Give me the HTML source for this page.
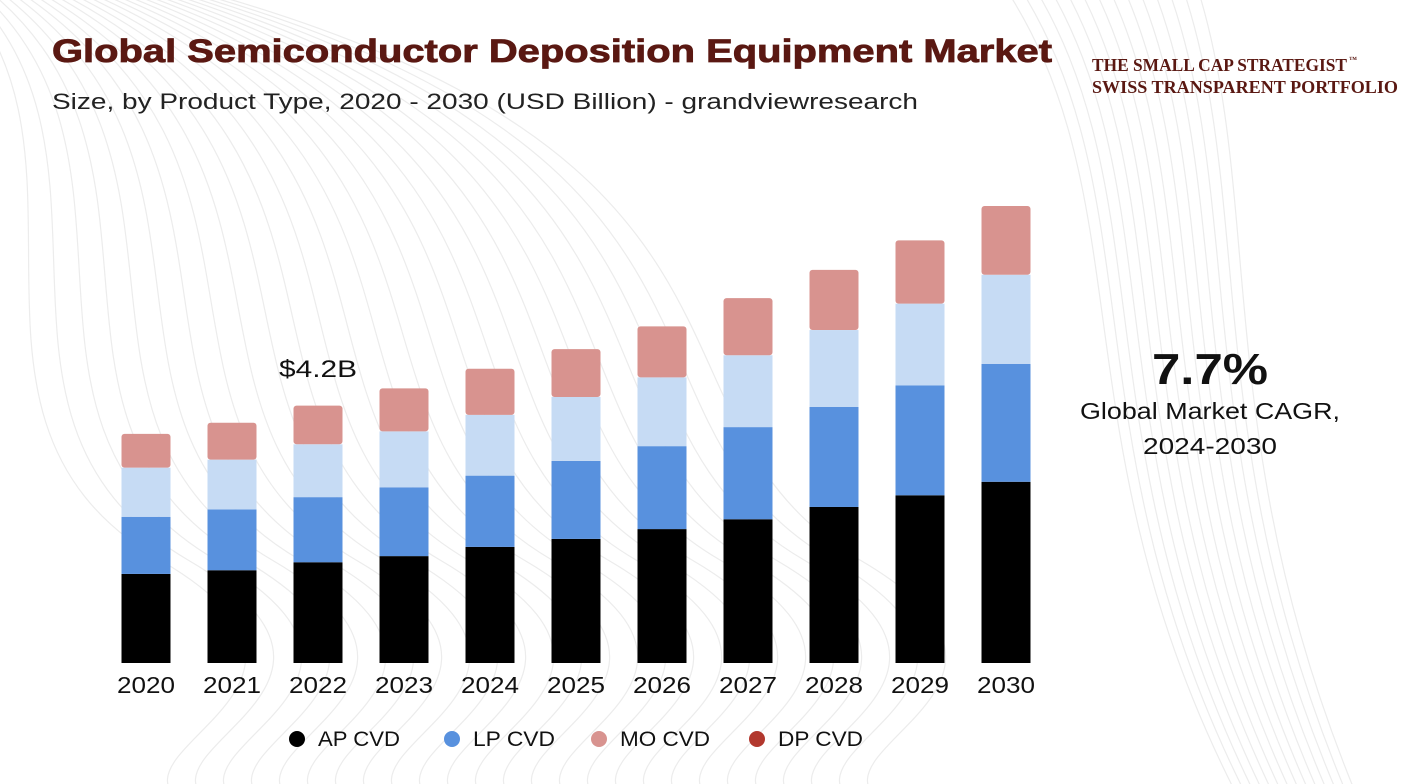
<!DOCTYPE html>
<html><head><meta charset="utf-8"><style>
body{margin:0;width:1404px;height:784px;overflow:hidden;background:#fff;font-family:"Liberation Sans",sans-serif;}
svg{display:block}
</style></head><body>
<svg width="1404" height="784" viewBox="0 0 1404 784">
<g id="bg" fill="none" stroke="#ececec" stroke-width="1.2"></g>
<text x="52" y="62" font-size="32" font-weight="bold" fill="#5a1812" stroke="#5a1812" stroke-width="0.8" textLength="1000" lengthAdjust="spacingAndGlyphs">Global Semiconductor Deposition Equipment Market</text>
<text x="52" y="109" font-size="22" fill="#222" textLength="866" lengthAdjust="spacingAndGlyphs">Size, by Product Type, 2020 - 2030 (USD Billion) - grandviewresearch</text>
<g font-family="Liberation Serif,serif" font-weight="bold" fill="#5a1812">
<text x="1092" y="71" font-size="18" textLength="255" lengthAdjust="spacingAndGlyphs">THE SMALL CAP STRATEGIST</text>
<text x="1349" y="62" font-size="8">™</text>
<text x="1092" y="93" font-size="18" textLength="306" lengthAdjust="spacingAndGlyphs">SWISS TRANSPARENT PORTFOLIO</text>
</g>
<g id="bars"></g>
<g id="xlabels" font-size="23" fill="#111" text-anchor="middle"></g>
<text x="318" y="377" font-size="24" fill="#111" text-anchor="middle" textLength="78" lengthAdjust="spacingAndGlyphs">$4.2B</text>
<text x="1210" y="384" font-size="44" font-weight="bold" fill="#111" text-anchor="middle" textLength="116" lengthAdjust="spacingAndGlyphs">7.7%</text>
<text x="1210" y="419" font-size="23" fill="#111" text-anchor="middle" textLength="260" lengthAdjust="spacingAndGlyphs">Global Market CAGR,</text>
<text x="1210" y="454" font-size="23" fill="#111" text-anchor="middle" textLength="134" lengthAdjust="spacingAndGlyphs">2024-2030</text>
<g id="legend" font-size="21" fill="#111"></g>
</svg>
<script>
const years=["2020","2021","2022","2023","2024","2025","2026","2027","2028","2029","2030"];
const apCvd=[1.45,1.51,1.64,1.74,1.89,2.02,2.18,2.34,2.54,2.73,2.95];
const lpCvd=[0.93,0.99,1.06,1.12,1.16,1.27,1.35,1.50,1.63,1.79,1.92];
const dpCvd=[0.80,0.81,0.86,0.91,0.99,1.04,1.12,1.17,1.25,1.33,1.45];
const moCvd=[0.55,0.60,0.63,0.70,0.75,0.78,0.83,0.93,0.98,1.03,1.12];
const seriesNames=["AP CVD","LP CVD","DP CVD","MO CVD"];
const NS="http://www.w3.org/2000/svg";
const base=663, pxPer=61.43, x0=146, step=86, bw=49;
const yScale=v=>v*pxPer;
const xScale=i=>x0+i*step;
const series=[apCvd,lpCvd,dpCvd,moCvd];
const colors=["#000000","#5891de","#c6dbf4","#d8938f"];
const bars=document.getElementById('bars');
years.forEach((yr,i)=>{
  let acc=0;
  series.forEach((s,k)=>{
    const h=yScale(s[i]);
    const r=document.createElementNS(NS,'rect');
    r.setAttribute('x',xScale(i)-bw/2);
    r.setAttribute('y',base-yScale(acc)-h);
    r.setAttribute('width',bw);
    r.setAttribute('height',h);
    r.setAttribute('fill',colors[k]);
    if(k===3){r.setAttribute('rx',3);}
    
    
    bars.appendChild(r);
    acc+=s[i];
  });
  const t=document.createElementNS(NS,'text');
  t.setAttribute('x',xScale(i));t.setAttribute('y',693);t.textContent=yr;
  t.setAttribute('textLength',58);t.setAttribute('lengthAdjust','spacingAndGlyphs');
  
  
  document.getElementById('xlabels').appendChild(t);
});
const legendItems=["AP CVD","LP CVD","MO CVD","DP CVD"];
const legendColors=["#000","#5891de","#d8938f","#b2382e"];
const legendX=[297,452,599,757];
const legendW=[82,82,90,85];
legendItems.forEach((n,i)=>{
  const g=document.createElementNS(NS,'g');
  
  
  const c=document.createElementNS(NS,'circle');
  c.setAttribute('cx',legendX[i]);c.setAttribute('cy',739);c.setAttribute('r',8);c.setAttribute('fill',legendColors[i]);
  const t=document.createElementNS(NS,'text');
  t.setAttribute('x',legendX[i]+21);t.setAttribute('y',746);t.textContent=n;
  t.setAttribute('textLength',legendW[i]);t.setAttribute('lengthAdjust','spacingAndGlyphs');
  g.appendChild(c);g.appendChild(t);
  document.getElementById('legend').appendChild(g);
});
const bg=document.getElementById('bg');
for(let j=0;j<26;j++){
  const p=document.createElementNS(NS,'path');
  const o=j*28;
  p.setAttribute('d',`M${-50+o*0.3},${-20} C${120+o},${150} ${-80+o},${420} ${160+o},${560} S${40+o},${760} ${220+o},${820}`);
  bg.appendChild(p);
}
for(let j=0;j<14;j++){
  const p=document.createElementNS(NS,'path');
  const o=j*30;
  p.setAttribute('d',`M${1000+o*0.5},-20 C${1150+o*0.3},${200} ${1050+o*0.4},${450} ${1250+o*0.3},${820}`);
  bg.appendChild(p);
}
</script>
</body></html>
